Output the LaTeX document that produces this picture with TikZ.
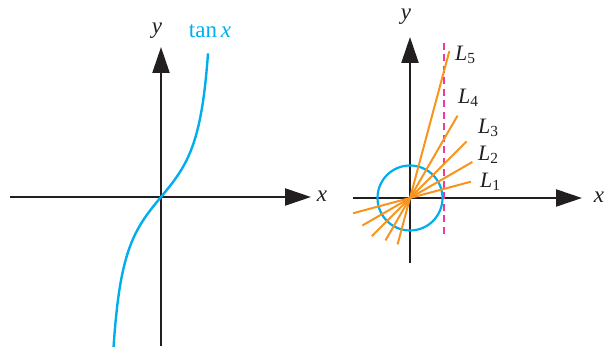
\documentclass[tikz,border=0pt]{standalone}
\usepackage{fontspec}
\setmainfont{Liberation Serif}
\usetikzlibrary{arrows.meta,calc}
\definecolor{tcyan}{HTML}{00AEEF}
\definecolor{torange}{HTML}{F7941D}
\definecolor{tpink}{HTML}{EE3A9B}
\definecolor{tblack}{HTML}{231F20}
\tikzset{
  axis/.style={draw=tblack,line width=2.2pt,-{Triangle[length=26pt,width=17pt]}},
  lab/.style={font=\fontsize{23}{25}\selectfont\itshape,text=tblack,inner sep=0pt},
  llab/.style={font=\fontsize{22}{24}\selectfont,text=tblack,inner sep=0pt,anchor=west},
  ray/.style={draw=torange,line width=2pt},
}
\begin{document}
\begin{tikzpicture}[x=1pt,y=-1pt]
\useasboundingbox (0,0) rectangle (605,347);
% left plot
\coordinate (O1) at (161,197);
\draw[axis] (10,197) -- (311,197);
\draw[axis] (161,346) -- (161,47);
\node[lab] (x1) at (322,196) {x};
\node[lab] (y1) at (157,31) {y};
\node[font=\fontsize{23}{25}\selectfont,text=tcyan,inner sep=0pt] (tan) at (210,31) {tan\,\textit{x}};
\draw[tcyan,line width=2.4pt,domain=-47.5:47,samples=120,smooth]
  plot ({161+\x},{197-44.5*tan(deg(\x/37))});
% right plot
\coordinate (O2) at (410,198);
\draw[axis] (353,198) -- (582,198);
\draw[axis] (410,263) -- (410,37);
\node[lab] (x2) at (599,197) {x};
\node[lab] (y2) at (406,17) {y};
\draw[tcyan,line width=2.2pt] (O2) circle (32.5);
\draw[tpink,line width=1.3pt,dash pattern=on 7pt off 4.5pt] (444,43) -- (444,238);
\foreach \a/\u/\d in {15/63/59,30/72/55,45/80/54,60/95/49,75/152/48}{
  \draw[ray] ($(O2)+(-\a:\u)$) -- ($(O2)+(180-\a:\d)$);
}
\node[llab] (L5) at (455,55) {\textit{L}\textsubscript{5}};
\node[llab] (L4) at (458,98) {\textit{L}\textsubscript{4}};
\node[llab] (L3) at (478,128) {\textit{L}\textsubscript{3}};
\node[llab] (L2) at (478,155) {\textit{L}\textsubscript{2}};
\node[llab] (L1) at (480,182) {\textit{L}\textsubscript{1}};
\end{tikzpicture}
\end{document}
